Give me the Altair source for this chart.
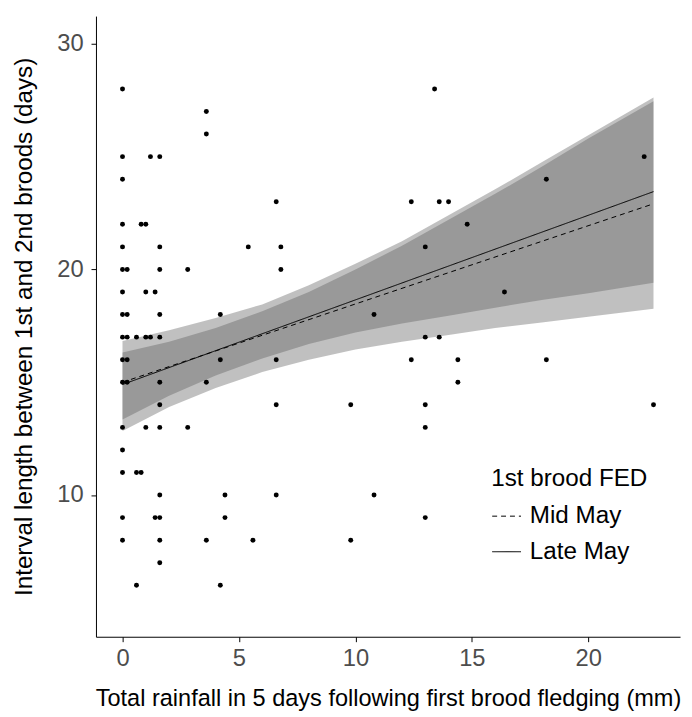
import altair as alt
import pandas as pd

# ---- scatter data (rainfall mm, interval days) ----
rain_x = (
    [0] * 16 + [0.2] * 5 + [0.6] * 3 + [0.8] * 2 + [1.0] * 4 + [1.2] * 2 + [1.4] * 2 +
    [1.6] * 12 + [2.8] * 2 + [3.6] * 4 + [4.2] * 3 + [4.4] * 2 + [5.4] + [5.6] +
    [6.6] * 4 + [6.8] * 2 + [9.8] * 2 + [10.8] * 2 + [12.4] * 2 + [13.0] * 5 + [13.4] +
    [13.6] * 2 + [14.0] + [14.4] * 2 + [14.8] + [16.4] + [18.2] * 2 + [22.4] + [22.8]
)
interval_y = (
    [28, 25, 24, 22, 21, 20, 19, 18, 17, 16, 15, 13, 12, 11, 9, 8] +
    [20, 18, 17, 16, 15] +
    [17, 11, 6] +
    [22, 11] +
    [22, 19, 17, 13] +
    [25, 17] +
    [19, 9] +
    [25, 21, 20, 18, 17, 15, 14, 13, 10, 9, 8, 7] +
    [20, 13] +
    [27, 26, 15, 8] +
    [18, 16, 6] +
    [10, 9] +
    [21] + [8] +
    [23, 16, 14, 10] +
    [21, 20] +
    [14, 8] +
    [18, 10] +
    [23, 16] +
    [21, 17, 14, 13, 9] +
    [28] +
    [23, 17] +
    [23] +
    [16, 15] +
    [22] + [19] + [24, 16] + [25] + [14]
)

# ---- fitted lines ----
fit_x = [0, 22.8]
mid_line = [15.0, 22.91]
late_line = [14.9, 23.45]

# ---- confidence bands ----
band_x = [0, 2, 4, 6, 8, 10, 12, 14, 16, 18, 20, 22.8]
mid_lo = [12.84, 13.9, 14.75, 15.45, 16.0, 16.45, 16.8, 17.1, 17.4, 17.65, 17.9, 18.26]
mid_hi = [16.83, 17.3, 17.85, 18.45, 19.3, 20.25, 21.25, 22.4, 23.55, 24.75, 25.95, 27.62]
late_lo = [13.35, 14.4, 15.3, 16.05, 16.7, 17.2, 17.6, 17.95, 18.3, 18.65, 18.95, 19.41]
late_hi = [16.32, 16.8, 17.4, 18.15, 19.0, 20.0, 21.05, 22.2, 23.35, 24.55, 25.8, 27.45]

groups = ["Mid May", "Late May"]

pts = pd.DataFrame({"x": rain_x, "y": interval_y})
lines = pd.DataFrame({
    "x": fit_x * 2,
    "y": mid_line + late_line,
    "g": [groups[0]] * 2 + [groups[1]] * 2,
})
bands = pd.DataFrame({
    "x": band_x * 2,
    "lo": mid_lo + late_lo,
    "hi": mid_hi + late_hi,
    "g": [groups[0]] * len(band_x) + [groups[1]] * len(band_x),
})

FONT = "Liberation Sans"
xs = alt.Scale(domain=[-1.14, 23.94], nice=False, zero=False)
ys = alt.Scale(domain=[3.72, 31.23], nice=False, zero=False)

xax = alt.Axis(values=[0, 5, 10, 15, 20], title="Total rainfall in 5 days following first brood fledging (mm)",
               grid=False, labelPadding=5, titlePadding=17, titleFontSize=23.8)
yax = alt.Axis(values=[10, 20, 30], title="Interval length between 1st and 2nd broods (days)",
               grid=False, labelPadding=8, titlePadding=21, titleFontSize=24.5)

band_layer = alt.Chart(bands).mark_area(color="#5a5a5a", opacity=0.38).encode(
    x=alt.X("x:Q", scale=xs, axis=xax),
    y=alt.Y("lo:Q", scale=ys, axis=yax),
    y2="hi:Q",
    detail="g:N",
)

pt_layer = alt.Chart(pts).mark_circle(color="black", opacity=1, size=25).encode(
    x=alt.X("x:Q", scale=xs),
    y=alt.Y("y:Q", scale=ys),
)

line_layer = alt.Chart(lines).mark_line(color="black", strokeWidth=1).encode(
    x=alt.X("x:Q", scale=xs),
    y=alt.Y("y:Q", scale=ys),
    strokeDash=alt.StrokeDash(
        "g:N",
        sort=groups,
        scale=alt.Scale(domain=groups, range=[[5, 4], [1, 0]]),
        legend=alt.Legend(
            title="1st brood FED", orient="none", legendX=400, legendY=456,
            titleFontSize=24.5, titleFont=FONT, titleFontWeight="normal", titleColor="black",
            labelFontSize=24.5, labelFont=FONT, labelColor="black",
            symbolType="stroke", symbolSize=850, symbolStrokeWidth=1,
            symbolStrokeColor="black", rowPadding=9, titlePadding=10, labelOffset=8,
        ),
    ),
)

chart = alt.layer(band_layer, pt_layer, line_layer).properties(
    width=591, height=628,
    padding={"left": 89, "top": 4, "right": 4, "bottom": 75},
    autosize=alt.AutoSizeParams(type="none"),
).configure_view(stroke="transparent").configure_axis(
    labelFont=FONT, titleFont=FONT, labelFontSize=24,
    labelColor="#4d4d4d", titleColor="black", titleFontWeight="normal",
    domainColor="black", tickColor="black", tickSize=5, domainWidth=1, tickWidth=1,
)

chart.save("out.html", embed_options={"renderer": "svg", "actions": False})
